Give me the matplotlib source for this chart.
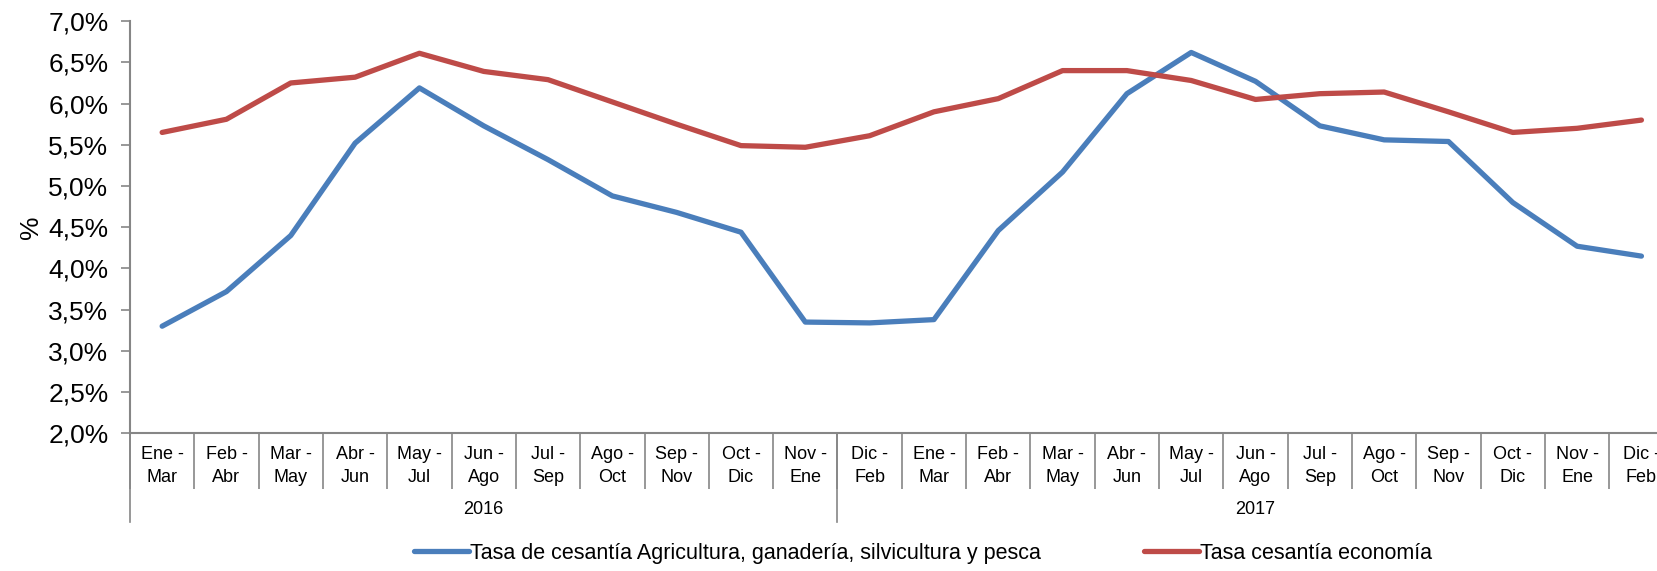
"""
Tasa de cesantía: sector agrícola vs economía, trimestres móviles 2016-2017.
"""

import numpy as np
import matplotlib.pyplot as plt
from matplotlib.ticker import FuncFormatter

plt.rcParams["font.family"] = ["Liberation Sans", "DejaVu Sans"]

# Trimestres móviles (dos niveles: trimestre / año)
trimestres = ["Ene -\nMar", "Feb -\nAbr", "Mar -\nMay", "Abr -\nJun", "May -\nJul",
              "Jun -\nAgo", "Jul -\nSep", "Ago -\nOct", "Sep -\nNov", "Oct -\nDic",
              "Nov -\nEne",
              "Dic -\nFeb", "Ene -\nMar", "Feb -\nAbr", "Mar -\nMay", "Abr -\nJun",
              "May -\nJul", "Jun -\nAgo", "Jul -\nSep", "Ago -\nOct", "Sep -\nNov",
              "Oct -\nDic", "Nov -\nEne", "Dic -\nFeb"]
anios = ["2016", "2017"]
n_por_anio = [11, 13]

# Valores en %
agricultura = [3.30, 3.72, 4.40, 5.52, 6.19, 5.73, 5.32, 4.88, 4.68, 4.44, 3.35,
               3.34, 3.38, 4.46, 5.17, 6.12, 6.62, 6.27, 5.73, 5.56, 5.54, 4.80,
               4.27, 4.15]
economia = [5.65, 5.81, 6.25, 6.32, 6.61, 6.39, 6.29, 6.02, 5.75, 5.49, 5.47,
            5.61, 5.90, 6.06, 6.40, 6.40, 6.28, 6.05, 6.12, 6.14, 5.90, 5.65,
            5.70, 5.80]

AZUL = "#4A7EBB"
ROJO = "#BE4B48"
GRIS = "#868686"

fig = plt.figure(figsize=(16.58, 5.71), dpi=100)
ax = fig.add_axes([0.0784, 0.241, 0.931, 0.722])

x = np.arange(len(trimestres))
ax.plot(x, agricultura, color=AZUL, lw=3.8, solid_capstyle="round",
        solid_joinstyle="round",
        label="Tasa de cesantía Agricultura, ganadería, silvicultura y pesca")
ax.plot(x, economia, color=ROJO, lw=3.8, solid_capstyle="round",
        solid_joinstyle="round", label="Tasa cesantía economía")

ax.set_xlim(-0.5, len(trimestres) - 0.5)
ax.set_ylim(2.0, 7.0)
ax.set_yticks(np.arange(2.0, 7.01, 0.5))
ax.yaxis.set_major_formatter(FuncFormatter(lambda v, p: f"{v:.1f}%".replace(".", ",")))
ax.tick_params(axis="y", length=6.5, width=1.2, color=GRIS, pad=9, labelsize=19)
ax.set_ylabel("%", fontsize=19, labelpad=4)

# eje x: nivel trimestre
ax.set_xticks(x)
ax.set_xticklabels(trimestres, fontsize=13, linespacing=1.5)
ax.tick_params(axis="x", which="major", length=0, pad=9)
ax.set_xticks(np.arange(-0.5, len(trimestres), 1), minor=True)
ax.tick_params(axis="x", which="minor", length=40, width=1.2, color=GRIS)

# eje x: nivel año
bordes = np.concatenate([[0], np.cumsum(n_por_anio)]) - 0.5
for b in bordes[:-1]:
    ax.plot([b, b], [0, -0.214], color=GRIS, lw=1.2,
            transform=ax.get_xaxis_transform(), clip_on=False)
for anio, ini, fin in zip(anios, bordes[:-1], bordes[1:]):
    ax.annotate(anio, xy=((ini + fin) / 2, 0), xycoords=("data", "axes fraction"),
                xytext=(0, -55), textcoords="offset points",
                ha="center", va="center", fontsize=13)

for lado in ["top", "right"]:
    ax.spines[lado].set_visible(False)
for lado in ["left", "bottom"]:
    ax.spines[lado].set_color(GRIS)
    ax.spines[lado].set_linewidth(1.5)

fig.legend(loc="center", bbox_to_anchor=(0.5567, 0.0315), ncol=2, frameon=False,
           fontsize=15.5, handlelength=2.55, handletextpad=0.05, columnspacing=4.8)

plt.savefig("out.png", dpi=100)
